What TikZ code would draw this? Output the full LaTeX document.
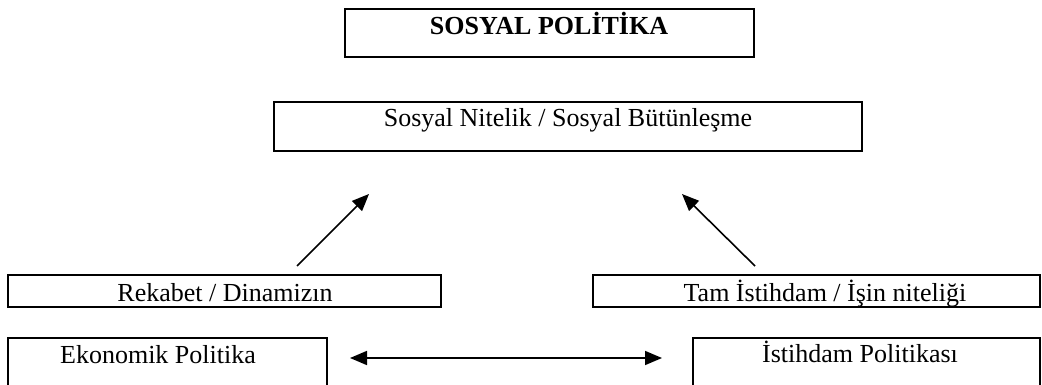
\documentclass[tikz,border=0pt]{standalone}
\usepackage{fontspec}
\setmainfont{Liberation Serif}
\usetikzlibrary{arrows.meta}
\begin{document}
\begin{tikzpicture}[x=1pt,y=-1pt,
  boxstyle/.style={draw=black,line width=2.6pt},
  txt/.style={anchor=base,inner sep=0pt,font=\fontsize{26}{30}\selectfont},
  conn/.style={line width=1.6pt,-{Triangle[length=17pt,width=14pt]}},
  conn2/.style={line width=1.6pt,{Triangle[length=17pt,width=14pt]}-{Triangle[length=17pt,width=14pt]}}]
\useasboundingbox (0,0) rectangle (1042,385);
% boxes
\draw[boxstyle] (345,9) rectangle (754,57);
\node[txt,font=\fontsize{26}{30}\selectfont\bfseries] (title) at (549,35) {SOSYAL POLİTİKA};
\draw[boxstyle] (274,102) rectangle (862,151);
\node[txt] (sosyal) at (568,127) {Sosyal Nitelik / Sosyal Bütünleşme};
\draw[boxstyle] (8,275) rectangle (441,307);
\node[txt] (rekabet) at (225,301) {Rekabet / Dinamizın};
\draw[boxstyle] (593,275) rectangle (1040,307);
\node[txt] (tam) at (825,301) {Tam İstihdam / İşin niteliği};
\draw[boxstyle] (8,395) -- (8,338) -- (327,338) -- (327,395);
\node[txt] (eko) at (158,363) {Ekonomik Politika};
\draw[boxstyle] (693,395) -- (693,338) -- (1040,338) -- (1040,395);
\node[txt] (ist) at (860,362) {İstihdam Politikası};
% connectors
\coordinate (a1) at (297,266);
\coordinate (a2) at (369,194);
\coordinate (b1) at (755,266);
\coordinate (b2) at (682,194);
\coordinate (c1) at (350,358);
\coordinate (c2) at (662,358);
\draw[conn] (a1) -- (a2);
\draw[conn] (b1) -- (b2);
\draw[conn2] (c1) -- (c2);
\end{tikzpicture}
\end{document}
